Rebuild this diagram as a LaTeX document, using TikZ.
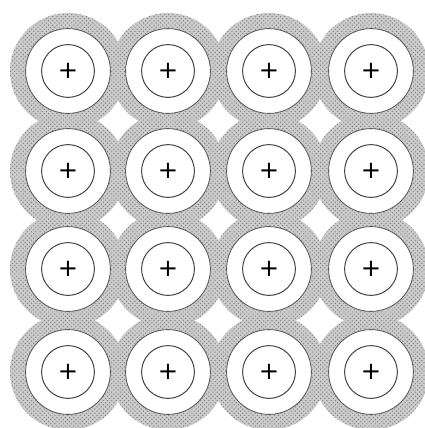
\documentclass[tikz,border=0pt]{standalone}
\usepackage{fontspec}
\usepackage{tikz}
\usetikzlibrary{patterns}
\newfontfamily\ionfont{DejaVu Sans}
\tikzset{
	cloud/.style={circle, minimum size=2.9cm, inner sep=0pt,
		preaction={fill=black!20}, pattern=crosshatch dots, pattern color=black!50},
	shell/.style={circle, draw=black!65, line width=0.6pt, fill=white,
		minimum size=2.12cm, inner sep=0pt},
	core/.style={circle, draw=black!75, line width=0.7pt,
		minimum size=1.32cm, inner sep=0pt, font=\ionfont\LARGE}
}

\begin{document}
\begin{tikzpicture}[x=0.025cm, y=-0.025cm]
	\useasboundingbox (0,0) rectangle (425,428);
	% electron clouds first, then the shells on top
	\foreach \i/\x in {1/68, 2/168, 3/269, 4/371}
		\foreach \j/\y in {1/71, 2/171, 3/269, 4/372}
			\node[cloud] (cl-\i-\j) at (\x,\y) {};
	\foreach \i/\x in {1/68, 2/168, 3/269, 4/371}
		\foreach \j/\y in {1/71, 2/171, 3/269, 4/372}
			\node[shell] (sh-\i-\j) at (\x,\y) {};
	\foreach \i/\x in {1/68, 2/168, 3/269, 4/371}
		\foreach \j/\y in {1/71, 2/171, 3/269, 4/372}
			\node[core] (ion-\i-\j) at (sh-\i-\j.center) {+};
\end{tikzpicture}
\end{document}
